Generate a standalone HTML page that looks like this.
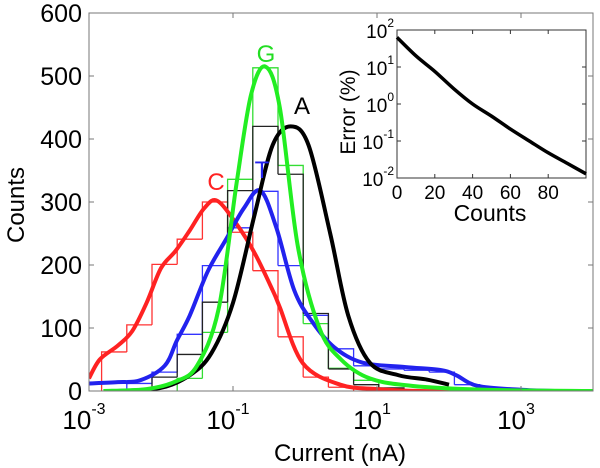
<!DOCTYPE html>
<html><head><meta charset="utf-8"><style>
body{margin:0;background:#fff;}
svg{display:block;font-family:"Liberation Sans",sans-serif;}
</style></head><body>
<svg id="chart" width="600" height="468" viewBox="0 0 600 468"></svg>
<script>
// ---- main chart data ----
const xTickExps = [-3, -1, 1, 3];
const yTicks = [0, 100, 200, 300, 400, 500, 600];
const binStart = -2.825, binWidth = 0.35;
const redBins = [62, 105, 201, 241, 300, 252, 191, 86, 22, 6];
const redFirstBin = 0;
const blueBins = [12, 30, 90, 199, 259, 317, 199, 120, 67, 40, 35, 33, 30, 10];
const blueFirstBin = 1;
const greenBins = [20, 93, 336, 513, 358, 107, 36, 17];
const greenFirstBin = 3;
const blackBins = [22, 58, 141, 318, 420, 344, 123, 35, 10, 5];
const blackFirstBin = 2;
const redX = [-3.0,-2.85,-2.6,-2.4,-2.2,-2.0,-1.8,-1.6,-1.4,-1.22,-0.95,-0.7,-0.45,-0.35,-0.03,0.49,1,1.6,2.5];
const redY = [20,50,72,95,140,195,222,255,290,302,265,219,160,133,44,10,3,0,0];
const blueX = [-3,-2.6,-2.29,-1.95,-1.78,-1.6,-1.35,-1.1,-0.85,-0.62,-0.4,-0.15,0.1,0.4,0.8,1.4,1.9,2.1,2.4,3,3.5];
const blueY = [12,14,17,40,80,120,190,240,290,318,260,160,110,70,45,38,33,25,8,2,0];
const greenX = [-2.8,-2.2,-1.8,-1.5,-1.2,-0.95,-0.75,-0.55,-0.35,-0.1,0.2,0.5,0.9,1.5,2.5,4];
const greenY = [0,3,15,40,130,330,470,515,450,230,100,50,20,8,2,0];
const blackX = [-2.6,-2.0,-1.6,-1.3,-1.0,-0.7,-0.45,-0.2,0.05,0.35,0.6,0.9,1.3,1.7,2.0];
const blackY = [0,5,25,60,140,280,390,420,390,250,120,45,25,18,10];
// ---- inset data ----
const insetX = [0, 10, 20, 30, 40, 50, 60, 70, 80, 90, 100];
const insetY = [63, 20, 7.6, 2.6, 1.0, 0.47, 0.21, 0.1, 0.048, 0.025, 0.013];
const insetXTicks = [0, 20, 40, 60, 80];
const insetYTickExps = [-2, -1, 0, 1, 2];

const NS = "http://www.w3.org/2000/svg";
const svg = document.getElementById('chart');
function el(tag, attrs, parent){const e=document.createElementNS(NS,tag);for(const k in attrs)e.setAttribute(k,attrs[k]);(parent||svg).appendChild(e);return e;}

const L=89,R=593,T=13,B=391;
const xs = lx => L + (lx + 3) * (R - L) / 7;
const ys = v => B - v * (B - T) / 600;

function smooth(pts){
  let d = `M${pts[0][0]},${pts[0][1]}`;
  for(let i=0;i<pts.length-1;i++){
    const p0=pts[Math.max(0,i-1)],p1=pts[i],p2=pts[i+1],p3=pts[Math.min(pts.length-1,i+2)];
    const c1=[p1[0]+(p2[0]-p0[0])/6,p1[1]+(p2[1]-p0[1])/6];
    const c2=[p2[0]-(p3[0]-p1[0])/6,p2[1]-(p3[1]-p1[1])/6];
    d+=` C${c1[0]},${c1[1]} ${c2[0]},${c2[1]} ${p2[0]},${p2[1]}`;
  }
  return d;
}

const clip = el('clipPath',{id:'pc'}); el('rect',{x:L,y:T-20,width:R-L,height:B-T+20},clip);

// histograms as staircase outlines
function hist(bins, first, color, name){
  const g=el('g',{'clip-path':'url(#pc)'});
  
  
  bins.forEach((c,i)=>{
    const a=binStart+(first+i)*binWidth;
    const x0=xs(a), x1=xs(a+binWidth);
    const prev = i>0 ? bins[i-1] : 0;
    const next = i<bins.length-1 ? bins[i+1] : 0;
    let d=`M${x0},${ys(Math.min(prev,c))} L${x0},${ys(c)} L${x1},${ys(c)}`;
    if(next<c) d+=` L${x1},${ys(next)}`;
    const p=el('path',{d:d,fill:'none',stroke:color,'stroke-width':1.3},g);
    
    
  });
}
hist(redBins, redFirstBin, '#f33', 'c-histogram');
hist(blueBins, blueFirstBin, '#33f', 't-histogram');
hist(greenBins, greenFirstBin, '#3d3', 'g-histogram');
hist(blackBins, blackFirstBin, '#222', 'a-histogram');

function curve(X,Y,color,name){
  const p=el('path',{d:smooth(X.map((x,i)=>[xs(x),ys(Y[i])])),fill:'none',stroke:color,'stroke-width':4,'clip-path':'url(#pc)'});
  
  
}
curve(redX,redY,'#f22','c-curve');
curve(blueX,blueY,'#22e','t-curve');
curve(blackX,blackY,'#000','a-curve');
curve(greenX,greenY,'#2e2','g-curve');

// axes box
const box=el('rect',{x:L,y:T,width:R-L,height:B-T,fill:'none',stroke:'#777','stroke-width':1});


yTicks.forEach(v=>{
  el('line',{x1:L,x2:L+5,y1:ys(v),y2:ys(v),stroke:'#777'});
  el('line',{x1:R,x2:R-5,y1:ys(v),y2:ys(v),stroke:'#777'});
  const t=el('text',{x:82,y:ys(v)+9,'text-anchor':'end','font-size':25,fill:'#000'});
  t.textContent=v;
  
  
});
xTickExps.forEach(e=>{
  const x=xs(e);
  el('line',{x1:x,x2:x,y1:B,y2:B-5,stroke:'#777'});
  el('line',{x1:x,x2:x,y1:T,y2:T+5,stroke:'#777'});
  const t=el('text',{x:x-5,y:B+38,'text-anchor':'middle','font-size':26,fill:'#000'});
  t.textContent='10';
  const s=el('tspan',{dy:-15,'font-size':16},t); s.textContent=e;
  
  
});
let t=el('text',{x:340,y:461,'text-anchor':'middle','font-size':24});
t.textContent='Current (nA)';


t=el('text',{x:0,y:0,'text-anchor':'middle','font-size':24,transform:'translate(24,205) rotate(-90)'});
t.textContent='Counts';



// peak labels
[['C',216,190,'#f22','c-label'],['T',262,178,'#22e','t-label'],['G',266,62,'#2d2','g-label'],['A',302,114,'#000','a-label']].forEach(a=>{
  const l=el('text',{x:a[1],y:a[2],'text-anchor':'middle','font-size':24,fill:a[3]});
  l.textContent=a[0];
  
  
});

// inset
const IL=397,IR=586,IT=30,IB=178;
const ix = v => IL + v*(IR-IL)/100;
const iy = v => IB - (Math.log10(v)+2)*(IB-IT)/4;
const ibg=el('rect',{x:IL,y:IT,width:IR-IL,height:IB-IT,fill:'#fff',stroke:'#333','stroke-width':1});


insetXTicks.forEach(v=>{
  el('line',{x1:ix(v),x2:ix(v),y1:IB,y2:IB-4,stroke:'#333'});
  el('line',{x1:ix(v),x2:ix(v),y1:IT,y2:IT+4,stroke:'#333'});
  const tt=el('text',{x:ix(v),y:IB+21,'text-anchor':'middle','font-size':19});
  tt.textContent=v;
  
  
});
insetYTickExps.forEach(e=>{
  const y=iy(Math.pow(10,e));
  el('line',{x1:IL,x2:IL+4,y1:y,y2:y,stroke:'#333'});
  el('line',{x1:IR,x2:IR-4,y1:y,y2:y,stroke:'#333'});
  const tt=el('text',{x:394,y:y+8,'text-anchor':'end','font-size':19});
  tt.textContent='10';
  const s=el('tspan',{dy:-11,'font-size':12},tt); s.textContent=e;
  
  
});
const ic=el('path',{d:smooth(insetX.map((x,i)=>[ix(x),iy(insetY[i])])),fill:'none',stroke:'#000','stroke-width':3.5});


t=el('text',{x:490,y:221,'text-anchor':'middle','font-size':23});
t.textContent='Counts';


t=el('text',{x:0,y:0,'text-anchor':'middle','font-size':21,transform:'translate(355,112) rotate(-90)'});
t.textContent='Error (%)';


</script>
</body></html>
